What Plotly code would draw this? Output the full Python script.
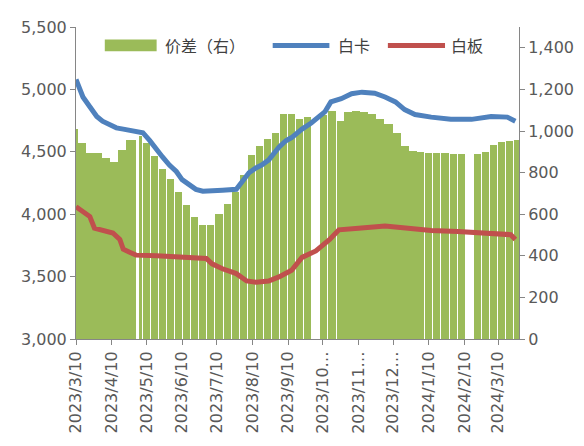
import plotly.graph_objects as go

# 价差（右）：周度柱，右轴
spread_dates = [
    "2023-03-08", "2023-03-15", "2023-03-22", "2023-03-29", "2023-04-05", "2023-04-12",
    "2023-04-19", "2023-04-26", "2023-04-30", "2023-05-05", "2023-05-10", "2023-05-17",
    "2023-05-24", "2023-05-31", "2023-06-07", "2023-06-14", "2023-06-21", "2023-06-28",
    "2023-07-05", "2023-07-12", "2023-07-19", "2023-07-26", "2023-08-02", "2023-08-09",
    "2023-08-16", "2023-08-23", "2023-08-30", "2023-09-06", "2023-09-13", "2023-09-20",
    "2023-09-27", "2023-10-11", "2023-10-18", "2023-10-25", "2023-11-01", "2023-11-08",
    "2023-11-15", "2023-11-22", "2023-11-29", "2023-12-06", "2023-12-13", "2023-12-20",
    "2023-12-27", "2024-01-03", "2024-01-10", "2024-01-17", "2024-01-24", "2024-01-31",
    "2024-02-07", "2024-02-21", "2024-02-28", "2024-03-06", "2024-03-13", "2024-03-20",
    "2024-03-27",
]
spread_values = [
    1010, 940, 895, 895, 868, 850,
    910, 955, 958, 975, 940, 880,
    815, 770, 705, 645, 585, 546,
    550, 600, 650, 705, 790, 885,
    930, 960, 990, 1080, 1080, 1060,
    1065, 1075, 1095, 1050, 1090, 1096,
    1092, 1080, 1060, 1035, 990, 930,
    902, 898, 895, 893, 892, 891,
    890, 888, 900, 935, 947, 952,
    955,
]

# 白卡（左轴）
card_dates = [
    "2023-03-10", "2023-03-16", "2023-03-22", "2023-03-28", "2023-04-02", "2023-04-08",
    "2023-04-14", "2023-04-20", "2023-05-01", "2023-05-07", "2023-05-13", "2023-05-19",
    "2023-05-24", "2023-05-30", "2023-06-05", "2023-06-10", "2023-06-16", "2023-06-22",
    "2023-06-28", "2023-07-09", "2023-07-15", "2023-07-27", "2023-08-01", "2023-08-07",
    "2023-08-13", "2023-08-18", "2023-08-24", "2023-09-02", "2023-09-08", "2023-09-13",
    "2023-09-22", "2023-09-30", "2023-10-12", "2023-10-17", "2023-10-26", "2023-11-04",
    "2023-11-13", "2023-11-24", "2023-12-03", "2023-12-12", "2023-12-20", "2023-12-29",
    "2024-01-12", "2024-01-29", "2024-02-16", "2024-03-04", "2024-03-18", "2024-03-25",
]
card_values = [
    5080, 4939, 4861, 4783, 4745, 4721,
    4692, 4682, 4659, 4653, 4589, 4511,
    4459, 4394, 4342, 4277, 4238, 4199,
    4184, 4184, 4192, 4199, 4254, 4332,
    4371, 4394, 4433, 4537, 4589, 4614,
    4682, 4731, 4822, 4900, 4926, 4965,
    4978, 4970, 4939, 4900, 4838, 4799,
    4778, 4760, 4760, 4783, 4778, 4745,
]

# 白板（左轴）
board_dates = [
    "2023-03-10", "2023-03-16", "2023-03-22", "2023-03-26", "2023-04-02", "2023-04-11",
    "2023-04-17", "2023-04-20", "2023-04-26", "2023-05-01", "2023-05-19", "2023-06-05",
    "2023-06-16", "2023-07-01", "2023-07-06", "2023-07-15", "2023-07-27", "2023-08-05",
    "2023-08-13", "2023-08-24", "2023-09-02", "2023-09-13", "2023-09-22", "2023-10-04",
    "2023-10-16", "2023-10-24", "2023-11-10", "2023-12-03", "2023-12-23", "2024-01-12",
    "2024-02-04", "2024-02-16", "2024-03-04", "2024-03-21", "2024-03-25",
]
board_values = [
    4060, 4020, 3981, 3888, 3875, 3849,
    3797, 3719, 3693, 3672, 3667, 3660,
    3646, 3646, 3602, 3563, 3524, 3465,
    3454, 3465, 3498, 3551, 3654, 3706,
    3797, 3875, 3888, 3906, 3888, 3870,
    3862, 3854, 3849, 3836, 3797,
]

tick_dates = [
    "2023-03-10", "2023-04-10", "2023-05-10", "2023-06-10", "2023-07-10", "2023-08-10",
    "2023-09-10", "2023-10-10", "2023-11-10", "2023-12-10", "2024-01-10", "2024-02-10",
    "2024-03-10",
]
tick_labels = [
    "2023/3/10", "2023/4/10", "2023/5/10", "2023/6/10", "2023/7/10", "2023/8/10",
    "2023/9/10", "2023/10…", "2023/11…", "2023/12…", "2024/1/10", "2024/2/10",
    "2024/3/10",
]

GREEN = "#9BBB59"
BLUE = "#4F81BD"
RED = "#C0504D"
AXIS = "#868686"
TEXT = "#595959"
DAY_MS = 86400000


def bar_width(d):
    """周柱宽度：连续数据段铺满，其余留出周末空隙"""
    special = {"2023-04-30": 2.6, "2023-05-05": 1.6}
    if d in special:
        return special[d] * DAY_MS
    if d <= "2023-04-26" or "2023-11-01" <= d <= "2023-12-27":
        return 7 * DAY_MS
    return 6.1 * DAY_MS


fig = go.Figure()

fig.add_trace(go.Bar(
    x=spread_dates,
    y=spread_values,
    width=[bar_width(d) for d in spread_dates],
    marker=dict(color=GREEN, line=dict(width=0)),
    name="价差（右）",
    yaxis="y",
))

fig.add_trace(go.Scatter(
    x=card_dates, y=card_values, mode="lines", name="白卡",
    line=dict(color=BLUE, width=5), yaxis="y2",
))
fig.add_trace(go.Scatter(
    x=board_dates, y=board_values, mode="lines", name="白板",
    line=dict(color=RED, width=5), yaxis="y2",
))

tick_font = dict(family="DejaVu Sans, Verdana, sans-serif", size=16, color=TEXT)
axis_common = dict(
    showgrid=False, zeroline=False, showline=True, linecolor=AXIS, linewidth=1,
    ticks="outside", ticklen=5, tickcolor=AXIS, tickfont=tick_font,
)

# 图例手工绘制（与原图的长色块一致）
leg_y = 0.941
shapes = [
    dict(type="rect", xref="paper", yref="paper", x0=0.065, x1=0.182, y0=0.922, y1=0.960,
         fillcolor=GREEN, line=dict(width=0)),
    dict(type="line", xref="paper", yref="paper", x0=0.444, x1=0.572, y0=leg_y, y1=leg_y,
         line=dict(color=BLUE, width=5)),
    dict(type="line", xref="paper", yref="paper", x0=0.704, x1=0.833, y0=leg_y, y1=leg_y,
         line=dict(color=RED, width=5)),
]
leg_font = dict(family="Noto Sans CJK SC, sans-serif", size=16, color="#404040")
annotations = [
    dict(text=t, x=x, y=leg_y, xref="paper", yref="paper", xanchor="left", yanchor="middle",
         showarrow=False, font=leg_font)
    for t, x in [("价差（右）", 0.196), ("白卡", 0.588), ("白板", 0.842)]
]

# 页面 body 自带 8px 边距，图幅与边距相应收缩
fig.update_layout(
    width=576, height=438,
    margin=dict(l=68, r=64, t=10, b=107),
    paper_bgcolor="white", plot_bgcolor="white",
    showlegend=False,
    bargap=0,
    xaxis=dict(
        **axis_common,
        type="date",
        range=["2023-03-10", "2024-03-28 04:00"],
        tickvals=tick_dates, ticktext=tick_labels, tickangle=-90,
    ),
    yaxis=dict(
        **axis_common,
        side="right", range=[0, 1500], dtick=200, tickformat=",d",
    ),
    yaxis2=dict(
        **axis_common,
        side="left", overlaying="y", range=[3000, 5500], dtick=500, tickformat=",d",
    ),
    shapes=shapes,
    annotations=annotations,
)

fig.write_html("out.html")
